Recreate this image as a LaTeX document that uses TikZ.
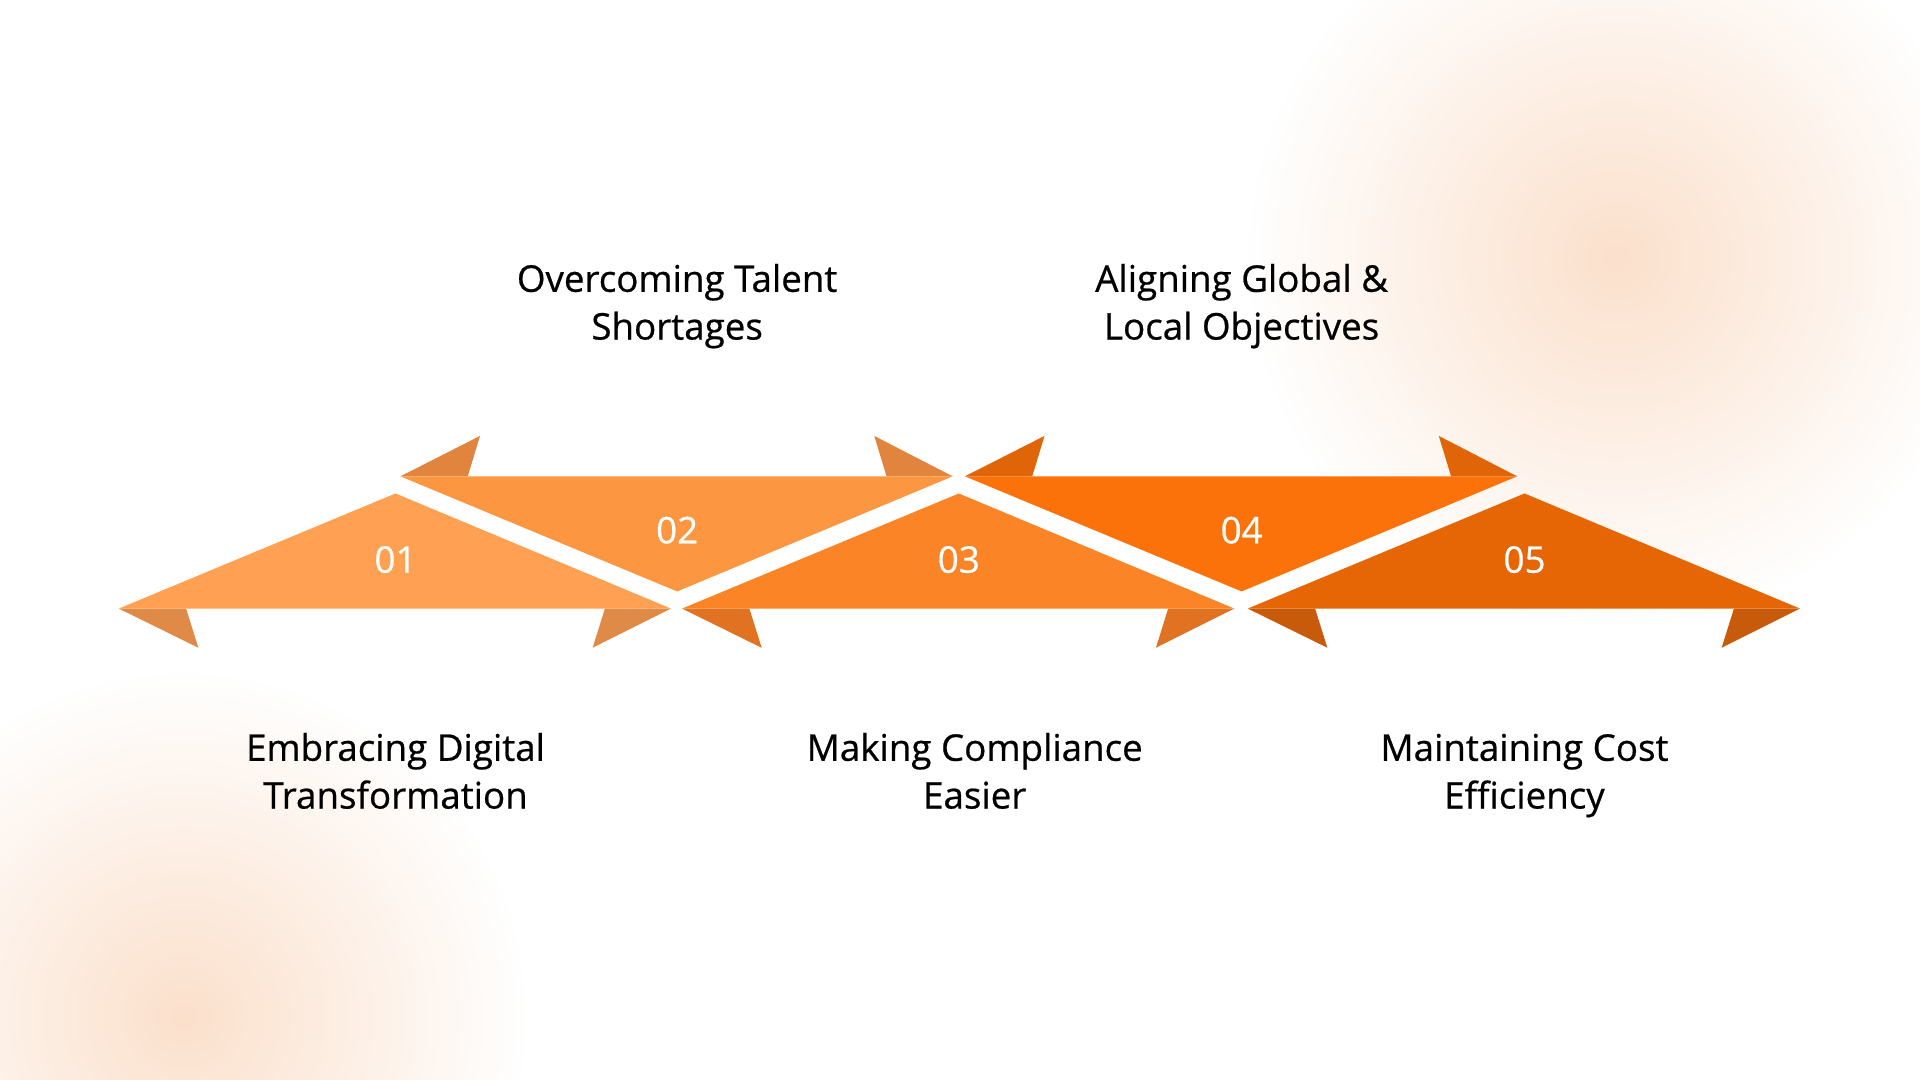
\documentclass[tikz,border=0pt]{standalone}
\usepackage{fontspec}
\setmainfont[FakeBold=0.6]{Open Sans}
\usetikzlibrary{fadings}
\definecolor{cA}{HTML}{FFA052}\definecolor{fA}{HTML}{E08A48}
\definecolor{cB}{HTML}{FD9640}\definecolor{fB}{HTML}{E0843E}
\definecolor{cC}{HTML}{FB8526}\definecolor{fC}{HTML}{E07222}
\definecolor{cD}{HTML}{FC720A}\definecolor{fD}{HTML}{E06508}
\definecolor{cE}{HTML}{E66504}\definecolor{fE}{HTML}{C85A0C}
\definecolor{peach}{HTML}{FAD2B4}
\tikzfading[name=fuzzyc, inner color=transparent!15, outer color=transparent!100]
\tikzset{num/.style={text=white,font=\fontsize{30}{36}\selectfont},
lab/.style={align=center,font=\fontsize{30}{39}\selectfont,text=black}}
\begin{document}
\begin{tikzpicture}[x=1pt,y=-1pt]
\fill[white] (0,0) rectangle (1568,882);
\useasboundingbox (0,0) rectangle (1568,882);
\fill[peach!80,path fading=fuzzyc] (1320,210) circle (300);
\fill[peach!80,path fading=fuzzyc] (150,830) circle (280);
\foreach \x/\c/\f in {323/cA/fA,783/cC/fC,1245/cE/fE}{
 \fill[\f] (\x-226,497) -- (\x-161,529) -- (\x-171,497) -- cycle;
 \fill[\f] (\x+225,497) -- (\x+161,529) -- (\x+171,497) -- cycle;
 \fill[\c] (\x,403) -- (\x+225,497) -- (\x-226,497) -- cycle;
}
\foreach \x/\c/\f in {553/cB/fB,1014/cD/fD}{
 \fill[\f] (\x-226,389) -- (\x-161,356) -- (\x-171,389) -- cycle;
 \fill[\f] (\x+225,389) -- (\x+161,356) -- (\x+171,389) -- cycle;
 \fill[\c] (\x,483) -- (\x+225,389) -- (\x-226,389) -- cycle;
}
\node[num] (t1) at (323,457) {01};
\node[num] (t2) at (553,433) {02};
\node[num] (t3) at (783,457) {03};
\node[num] (t4) at (1014,433) {04};
\node[num] (t5) at (1245,457) {05};
\node[lab] (l1) at (323,633) {Embracing Digital\strut\\Transformation\strut};
\node[lab] (l2) at (553,250) {Overcoming Talent\strut\\Shortages\strut};
\node[lab] (l3) at (796,633) {Making Compliance\strut\\Easier\strut};
\node[lab] (l4) at (1014,250) {Aligning Global \&\strut\\Local Objectives\strut};
\node[lab] (l5) at (1245,633) {Maintaining Cost\strut\\Efficiency\strut};
\end{tikzpicture}
\end{document}
